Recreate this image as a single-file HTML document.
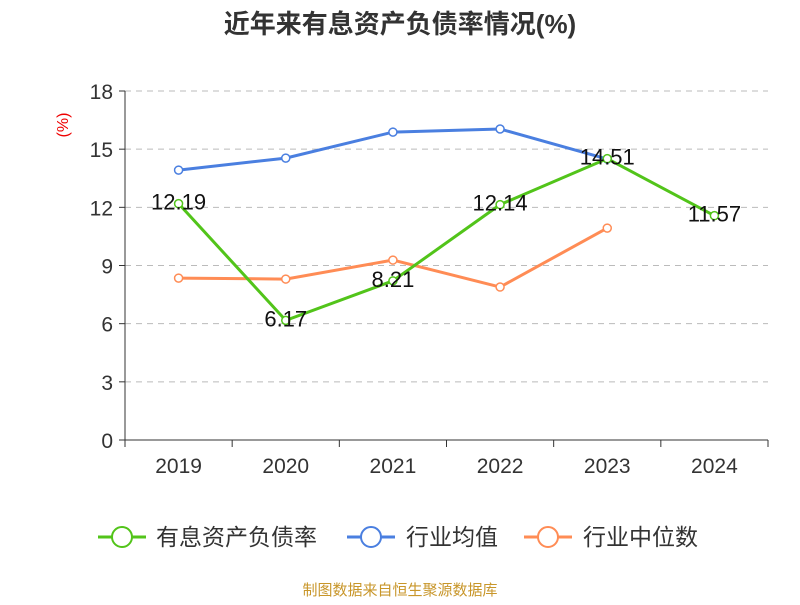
<!DOCTYPE html>
<html><head><meta charset="utf-8"><style>
body{margin:0;background:#fff;}
svg text{font-family:"Liberation Sans","Noto Sans CJK SC",sans-serif;}
</style></head><body>
<svg width="800" height="600" id="c">
<text x="400" y="33" text-anchor="middle" font-size="26" font-weight="bold" fill="#333">近年来有息资产负债率情况(%)</text>
<text x="68" y="125" font-size="16" fill="#e00" transform="rotate(-90 68 125)" text-anchor="middle">(%)</text>
<g id="grid"></g><g id="axes"></g><g id="series"></g>
<g>
<g><line x1="98" y1="537" x2="146" y2="537" stroke="#52c41a" stroke-width="3"/><circle cx="122" cy="537" r="10" fill="#fff" stroke="#52c41a" stroke-width="2"/><text x="156" y="545" font-size="23" fill="#333">有息资产负债率</text></g>
<g><line x1="347" y1="537" x2="395" y2="537" stroke="#4a7fe0" stroke-width="3"/><circle cx="371" cy="537" r="10" fill="#fff" stroke="#4a7fe0" stroke-width="2"/><text x="406" y="545" font-size="23" fill="#333">行业均值</text></g>
<g><line x1="524" y1="537" x2="572" y2="537" stroke="#ff8c55" stroke-width="3"/><circle cx="548" cy="537" r="10" fill="#fff" stroke="#ff8c55" stroke-width="2"/><text x="583" y="545" font-size="23" fill="#333">行业中位数</text></g>
</g>
<text x="400" y="595" text-anchor="middle" font-size="15" fill="#c8962a">制图数据来自恒生聚源数据库</text>
</svg>
<script>
const categories=["2019","2020","2021","2022","2023","2024"];
const yTicks=[0,3,6,9,12,15,18];
const debtRatio=[12.19,6.17,8.21,12.14,14.51,11.57];
const industryAvg=[13.92,14.54,15.88,16.04,14.49,null];
const industryMedian=[8.35,8.30,9.28,7.89,10.93,null];
const NS="http://www.w3.org/2000/svg";
const L=125,R=768,T=91,B=440;
const bw=(R-L)/categories.length;
const x=i=>L+bw*(i+0.5);
const y=v=>B-(v/18)*(B-T);
function mk(tag,attrs,parent){const e=document.createElementNS(NS,tag);for(const k in attrs)e.setAttribute(k,attrs[k]);parent.appendChild(e);return e;}
const grid=document.getElementById('grid'),axes=document.getElementById('axes'),ser=document.getElementById('series');
yTicks.forEach(t=>{
 if(t>0){const g=mk('line',{x1:L,x2:R,y1:y(t),y2:y(t),stroke:'#bbb','stroke-dasharray':'6,5'},grid);
 }
 mk('line',{x1:L-6,x2:L,y1:y(t),y2:y(t),stroke:'#333'},axes);
 const tx=mk('text',{x:L-12,y:y(t)+8,'text-anchor':'end','font-size':21,fill:'#333'},axes);tx.textContent=t;
 
});
mk('line',{x1:L,x2:L,y1:T,y2:B,stroke:'#333'},axes);
mk('line',{x1:L,x2:R,y1:B,y2:B,stroke:'#333'},axes);
for(let i=0;i<=categories.length;i++)mk('line',{x1:L+bw*i,x2:L+bw*i,y1:B,y2:B+7,stroke:'#333'},axes);
categories.forEach((c,i)=>{const tx=mk('text',{x:x(i),y:B+33,'text-anchor':'middle','font-size':21,fill:'#333'},axes);tx.textContent=c;
 });
function series(data,color,name,labels){
 const g=mk('g',{},ser);
 const pts=data.map((v,i)=>v==null?null:[x(i),y(v)]).filter(p=>p);
 const pl=mk('polyline',{points:pts.map(p=>p.join(',')).join(' '),fill:'none',stroke:color,'stroke-width':3},g);
 
 data.forEach((v,i)=>{if(v==null)return;
  const c=mk('circle',{cx:x(i),cy:y(v),r:4,fill:'#fff',stroke:color,'stroke-width':1.5},g);
  
  if(labels){const t=mk('text',{x:x(i),y:y(v)+6,'text-anchor':'middle','font-size':22,fill:'#111'},g);t.textContent=v.toFixed(2);
  }
 });
}
series(industryAvg,'#4a7fe0','industry-avg',false);
series(industryMedian,'#ff8c55','industry-median',false);
series(debtRatio,'#52c41a','debt-ratio',true);
</script>
</body></html>
